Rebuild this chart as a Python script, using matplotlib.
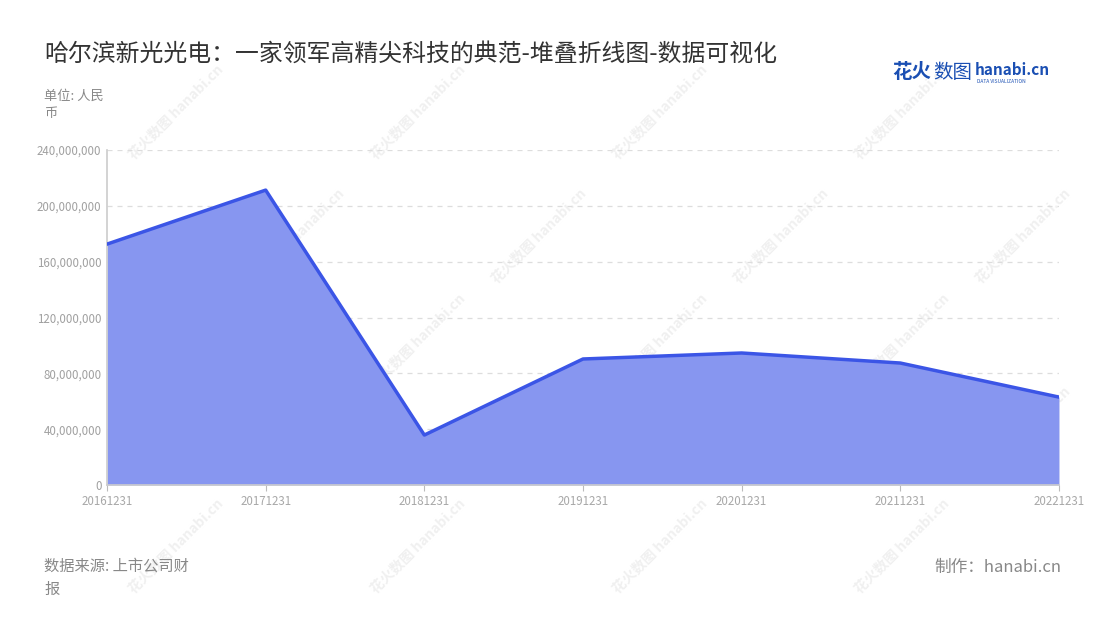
import matplotlib.pyplot as plt
from matplotlib.ticker import FuncFormatter

plt.rcParams['font.family'] = ['Noto Sans CJK SC', 'DejaVu Sans']

dates = ['20161231', '20171231', '20181231', '20191231', '20201231', '20211231', '20221231']
values = [172.6e6, 211.3e6, 35.8e6, 90.3e6, 94.6e6, 87.4e6, 63.0e6]
y_ticks = [0, 40e6, 80e6, 120e6, 160e6, 200e6, 240e6]

title = '哈尔滨新光光电：一家领军高精尖科技的典范-堆叠折线图-数据可视化'

fig = plt.figure(figsize=(11, 6.2), dpi=100)
ax = fig.add_axes([0.0973, 0.2177, 0.8654, 0.5403])
ax.set_facecolor('none')
ax.set_zorder(1)

x = list(range(len(dates)))
ax.fill_between(x, values, 0, color='#8796f0', linewidth=0, zorder=2)
ax.plot(x, values, color='#3b55e6', linewidth=2.5, zorder=3)

ax.set_xlim(0, len(dates) - 1)
ax.set_ylim(0, 240e6)
ax.set_xticks(x)
ax.set_xticklabels(dates)
ax.set_yticks(y_ticks)
ax.yaxis.set_major_formatter(FuncFormatter(lambda v, p: f'{int(v):,}'))

ax.grid(axis='y', color='#dddddd', linestyle=(0, (4, 4)), linewidth=0.9, zorder=1)
for s in ['top', 'right']:
    ax.spines[s].set_visible(False)
ax.spines['left'].set_color('#cccccc')
ax.spines['left'].set_linewidth(1.2)
ax.spines['bottom'].set_color('#cccccc')
ax.spines['bottom'].set_linewidth(1.2)
ax.tick_params(axis='y', length=0, labelsize=8.3, labelcolor='#a0a0a0', pad=4)
ax.tick_params(axis='x', length=4, color='#bbbbbb', labelsize=8.3, labelcolor='#a8a8a8', pad=3)

# faint watermarks (behind the chart)
for wx in [0.16, 0.38, 0.60, 0.82]:
    for wy in [0.82, 0.45, 0.12]:
        fig.text(wx, wy, '花火数图 hanabi.cn', rotation=45, fontsize=10, color='#f0f0f0',
                 ha='center', va='center', zorder=0, fontweight='bold')
for wx in [0.27, 0.49, 0.71, 0.93]:
    for wy in [0.62, 0.30]:
        fig.text(wx, wy, '花火数图 hanabi.cn', rotation=45, fontsize=10, color='#f0f0f0',
                 ha='center', va='center', zorder=0, fontweight='bold')

fig.text(0.04, 0.912, title, fontsize=17.2, color='#333333', ha='left', va='center')
fig.text(0.04, 0.855, '单位: 人民\n币', fontsize=9.5, color='#888888', ha='left', va='top',
         linespacing=1.45)
fig.text(0.04, 0.068, '数据来源: 上市公司财\n报', fontsize=11, color='#888888', ha='left',
         va='center', linespacing=1.45)
fig.text(0.965, 0.085, '制作：hanabi.cn', fontsize=12, color='#888888', ha='right', va='center')

# logo
fig.text(0.811, 0.883, '花火', fontsize=14, color='#1a4fb3', fontweight='bold', ha='left', va='center')
fig.text(0.848, 0.883, '数图', fontsize=14, color='#1a4fb3', ha='left', va='center')
fig.text(0.886, 0.887, 'hanabi.cn', fontsize=11, color='#1a4fb3', fontweight='bold', ha='left', va='center')
fig.text(0.888, 0.868, 'DATA VISUALIZATION', fontsize=3.5, color='#1a4fb3', ha='left', va='center')

fig.savefig('out.png', dpi=100)
